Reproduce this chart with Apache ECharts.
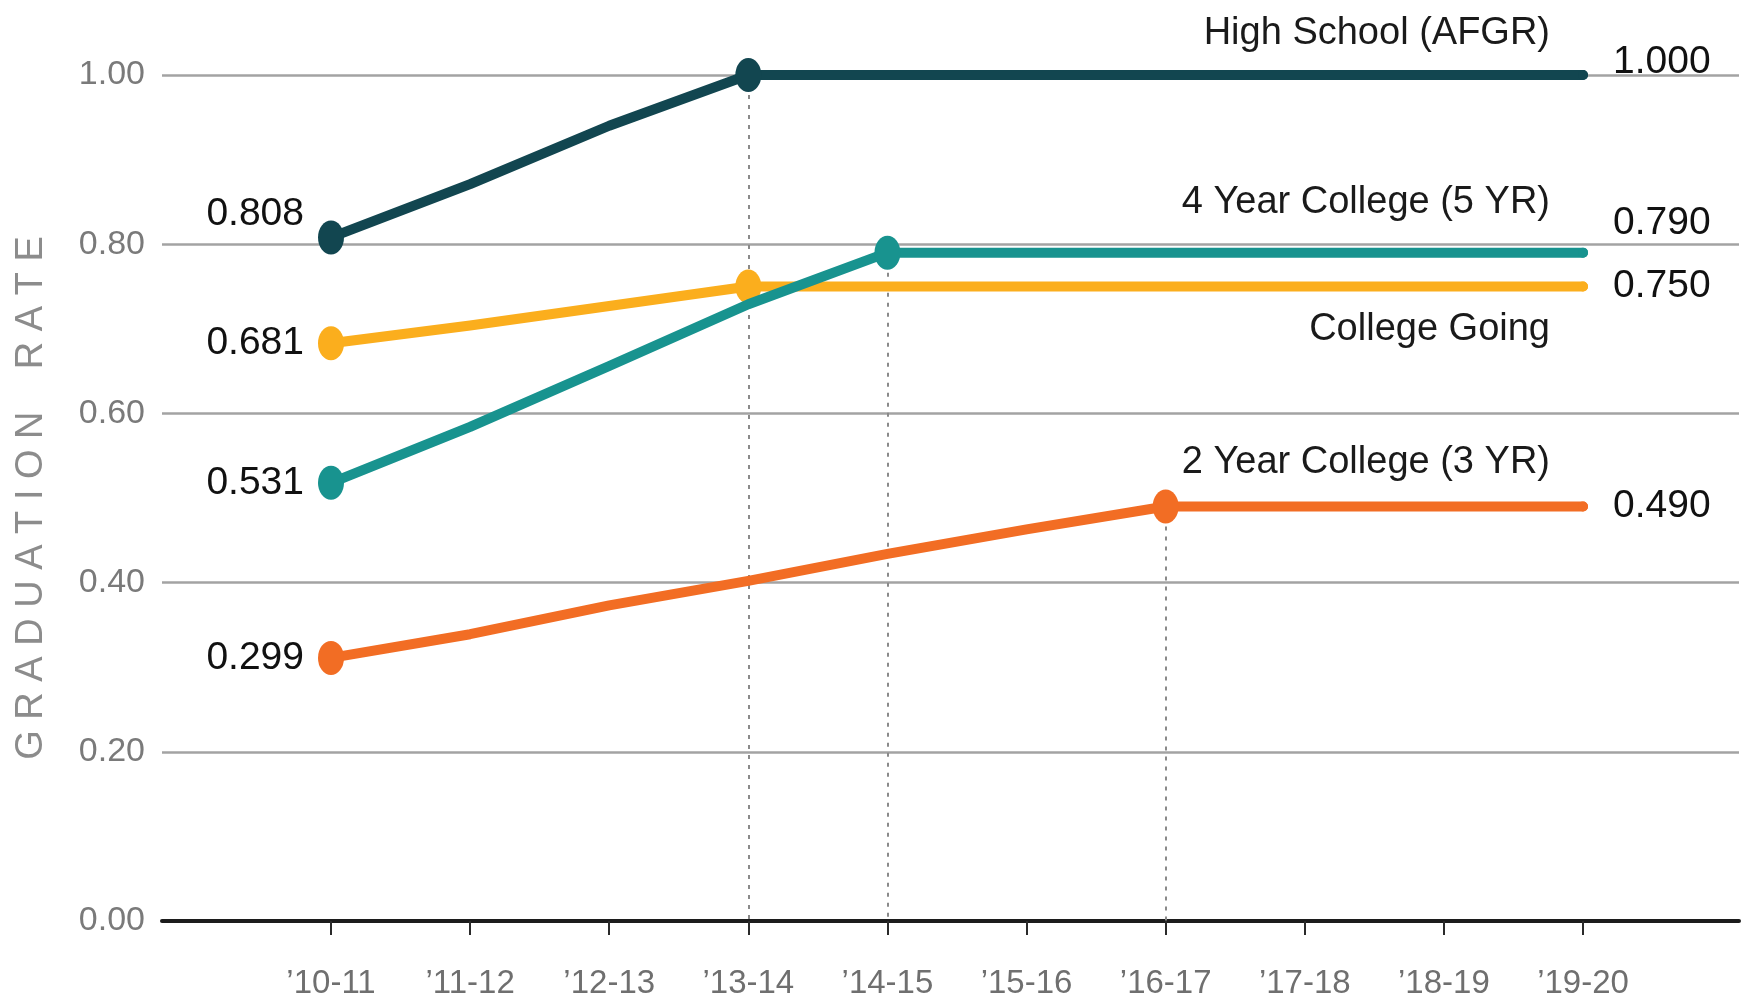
<!DOCTYPE html>
<html>
<head>
<meta charset="utf-8">
<script src="https://cdn.jsdelivr.net/npm/echarts@6/dist/echarts.min.js"></script>
<style>
html,body{margin:0;padding:0;background:#fff;}
#chart{width:1748px;height:1002px;}
</style>
</head>
<body>
<div id="chart"></div>
<script>
// ---- data ----
const categories = ['’10-11','’11-12','’12-13','’13-14','’14-15','’15-16','’16-17','’17-18','’18-19','’19-20'];
// plotted positions
const collegeGoing = [0.683, 0.704, 0.727, 0.750, 0.750, 0.750, 0.750, 0.750, 0.750, 0.750];
const fourYear     = [0.518, 0.584, 0.656, 0.729, 0.790, 0.790, 0.790, 0.790, 0.790, 0.790];
const highSchool   = [0.808, 0.871, 0.940, 1.000, 1.000, 1.000, 1.000, 1.000, 1.000, 1.000];
const twoYear      = [0.311, 0.339, 0.373, 0.402, 0.434, 0.463, 0.490, 0.490, 0.490, 0.490];
// printed value labels (start / end)
const startLabels  = ['0.681', '0.531', '0.808', '0.299'];
const endLabels    = ['0.750', '0.790', '1.000', '0.490'];
const seriesNames  = ['College Going', '4 Year College (5 YR)', 'High School (AFGR)', '2 Year College (3 YR)'];
const yTicks = [0, 0.2, 0.4, 0.6, 0.8, 1.0];
const axisTitle = 'G R A D U A T I O N    R A T E';

// ---- styles ----
const FONT = '"Liberation Sans", Arial, sans-serif';
const ELLIPSE = 'path://M0,50A50,50 0 1,1 100,50A50,50 0 1,1 0,50Z';
const styles = [
  { color: '#fbae1d', marker: 3, drop: null, leftOff: 0,   rightOff: 0,   nameOff: 43 },
  { color: '#18938f', marker: 4, drop: 4,    leftOff: 0,   rightOff: -29, nameOff: -50 },
  { color: '#124650', marker: 3, drop: 3,    leftOff: -23, rightOff: -13, nameOff: -41 },
  { color: '#f26d24', marker: 6, drop: 6,    leftOff: 0,   rightOff: 0,   nameOff: -44 }
];
const allSeries = [collegeGoing, fourYear, highSchool, twoYear];

function buildData(values, st, k) {
  const last = values.length - 1;
  return values.map((v, i) => {
    if (i === 0) {
      return { value: v, symbol: ELLIPSE, symbolSize: [26, 34],
        label: { show: true, position: 'left', distance: 14, offset: [0, st.leftOff],
          formatter: () => startLabels[k], fontFamily: FONT, fontSize: 39, color: '#111' } };
    }
    if (i === st.marker) {
      return { value: v, symbol: ELLIPSE, symbolSize: [26, 34] };
    }
    if (i === last) {
      return { value: v, symbol: 'circle', symbolSize: 10,
        label: { show: true, position: 'right', distance: 25, offset: [0, st.rightOff],
          formatter: () => endLabels[k], fontFamily: FONT, fontSize: 39, color: '#111' } };
    }
    return { value: v, symbol: 'none' };
  });
}

const series = allSeries.map((vals, k) => {
  const st = styles[k];
  const last = vals.length - 1;
  const s = {
    name: seriesNames[k],
    type: 'line',
    xAxisIndex: 1, yAxisIndex: 1,
    data: buildData(vals, st, k),
    lineStyle: { color: st.color, width: 10, cap: 'round', join: 'round' },
    itemStyle: { color: st.color },
    emphasis: { disabled: true },
    markPoint: {
      silent: true,
      symbol: 'circle', symbolSize: 0,
      data: [{ coord: [categories[last], vals[last]] }],
      label: { show: true, position: 'left', distance: 33, offset: [0, st.nameOff],
        formatter: seriesNames[k], fontFamily: FONT, fontSize: 38, color: '#1a1a1a' }
    },
    z: 3 + k
  };
  if (st.drop !== null) {
    s.markLine = {
      silent: true, z: 1, symbol: ['none', 'none'],
      label: { show: false },
      lineStyle: { color: '#8a8a8a', type: [4, 6], width: 2 },
      data: [[{ coord: [categories[st.drop], vals[st.drop]] }, { coord: [categories[st.drop], 0] }]]
    };
  }
  return s;
});

const chart = echarts.init(document.getElementById('chart'));
chart.setOption({
  animation: false,
  backgroundColor: '#ffffff',
  grid: [
    { left: 162, right: 9, top: 75, bottom: 81 },
    { left: 331, right: 165, top: 75, bottom: 81 }
  ],
  xAxis: [
    { gridIndex: 0, type: 'value', min: 0, max: 1,
      axisLine: { show: true, onZero: false, lineStyle: { color: '#1c1c1c', width: 4 } },
      axisTick: { show: false }, axisLabel: { show: false }, splitLine: { show: false } },
    { gridIndex: 1, type: 'category', data: categories, boundaryGap: false,
      axisLine: { show: false },
      axisTick: { show: true, length: 14, alignWithLabel: true, lineStyle: { color: '#2a2a2a', width: 2 } },
      axisLabel: { margin: 46, fontFamily: FONT, fontSize: 33, color: '#6f6f6f' },
      splitLine: { show: false } }
  ],
  yAxis: [
    { gridIndex: 0, type: 'value', min: yTicks[0], max: yTicks[yTicks.length - 1], interval: 0.2,
      axisLine: { show: false }, axisTick: { show: false },
      axisLabel: { margin: 17, fontFamily: FONT, fontSize: 34, color: '#7a7a7a',
        formatter: v => v.toFixed(2) },
      splitLine: { show: true, lineStyle: { color: '#a3a3a3', width: 2.5 } },
      name: axisTitle, nameLocation: 'middle', nameRotate: 90, nameGap: 111,
      nameTextStyle: { fontFamily: FONT, fontSize: 38, color: '#8c8c8c' } },
    { gridIndex: 1, type: 'value', min: yTicks[0], max: yTicks[yTicks.length - 1], show: false }
  ],
  series: series
});
</script>
</body>
</html>
